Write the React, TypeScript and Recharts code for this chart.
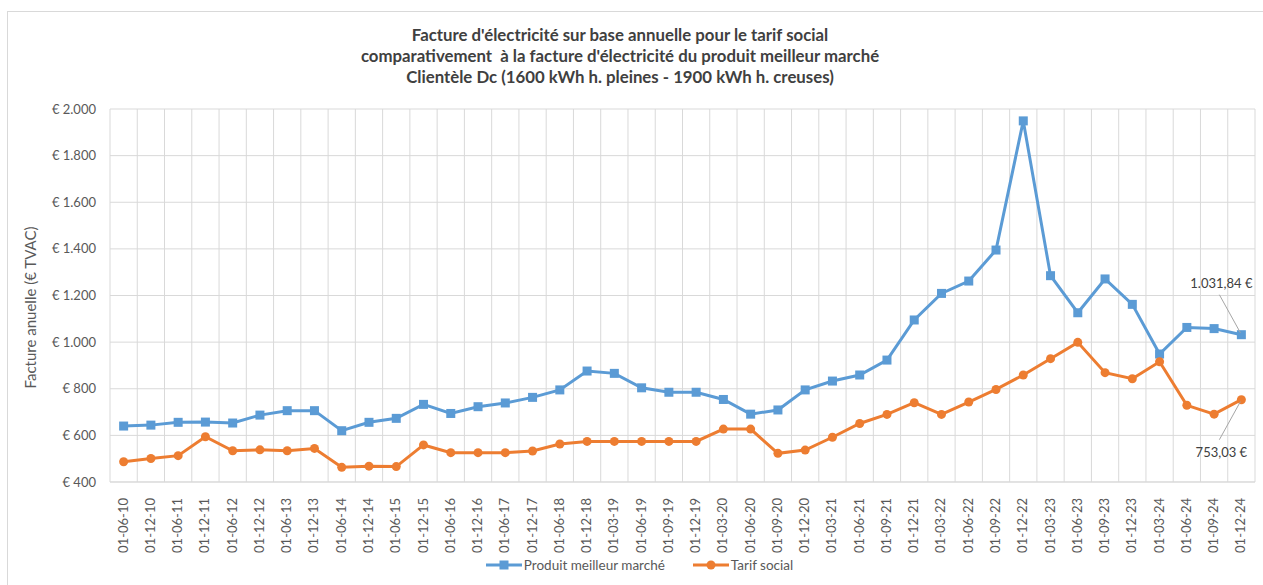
import React from 'react';
import {
  LineChart,
  Line,
  XAxis,
  YAxis,
  CartesianGrid,
  Label,
  LabelList,
  Legend,
} from 'recharts';

const dates = [
  '01-06-10', '01-12-10', '01-06-11', '01-12-11', '01-06-12', '01-12-12', '01-06-13',
  '01-12-13', '01-06-14', '01-12-14', '01-06-15', '01-12-15', '01-06-16', '01-12-16',
  '01-06-17', '01-12-17', '01-06-18', '01-12-18', '01-03-19', '01-06-19', '01-09-19',
  '01-12-19', '01-03-20', '01-06-20', '01-09-20', '01-12-20', '01-03-21', '01-06-21',
  '01-09-21', '01-12-21', '01-03-22', '01-06-22', '01-09-22', '01-12-22', '01-03-23',
  '01-06-23', '01-09-23', '01-12-23', '01-03-24', '01-06-24', '01-09-24', '01-12-24',
];

const meilleurMarche = [
  640, 644, 656, 657, 653, 687, 706, 706, 620, 656, 673, 733, 694, 723, 739, 763, 795,
  876, 866, 804, 785, 785, 754, 691, 709, 795, 833, 859, 923, 1095, 1209, 1262, 1395,
  1949, 1285, 1126, 1271, 1162, 949, 1063, 1058, 1031.84,
];

const tarifSocial = [
  487, 501, 513, 594, 534, 538, 534, 544, 463, 468, 466, 559, 526, 526, 526, 533, 563,
  574, 574, 574, 574, 574, 627, 627, 523, 537, 592, 651, 690, 740, 690, 743, 797, 859,
  929, 999, 869, 843, 916, 729, 691, 753.03,
];

const yTicks = [400, 600, 800, 1000, 1200, 1400, 1600, 1800, 2000];

const titleLines = [
  "Facture d'électricité sur base annuelle pour le tarif social",
  "comparativement  à la facture d'électricité du produit meilleur marché",
  'Clientèle Dc (1600 kWh h. pleines - 1900 kWh h. creuses)',
];

const BLUE = '#5B9BD5';
const ORANGE = '#ED7D31';
const GRID = '#d9d9d9';
const TEXT = '#595959';
const FONT = 'Lato, "Liberation Sans", sans-serif';

const data = dates.map((d, i) => ({
  date: d,
  meilleur: meilleurMarche[i],
  social: tarifSocial[i],
}));

const lastIndex = dates.length - 1;

const euroTick = (v: number) => {
  if (v >= 1000) {
    return `€ ${Math.floor(v / 1000)}.${String(v % 1000).padStart(3, '0')}`;
  }
  return `€ ${v}`;
};

const euroLabel = (v: number) => {
  const [int, dec] = v.toFixed(2).split('.');
  const withDots = int.replace(/\B(?=(\d{3})+(?!\d))/g, '.');
  return `${withDots},${dec} €`;
};

const SquareDot = (props: any) => {
  const { cx, cy } = props;
  if (cx == null || cy == null) return null;
  return <rect x={cx - 4.5} y={cy - 4.5} width={9} height={9} fill={BLUE} />;
};

const XTick = (props: any) => {
  const { x, y, payload } = props;
  return (
    <text
      x={x}
      y={y}
      transform={`rotate(-90, ${x}, ${y})`}
      textAnchor="end"
      dy={4}
      fill={TEXT}
      fontSize={13}
      fontFamily={FONT}
    >
      {payload.value}
    </text>
  );
};

const makeEndLabel = (above: boolean) => (props: any) => {
  const { x, y, index, value } = props;
  if (index !== lastIndex) return null;
  const sign = above ? -1 : 1;
  return (
    <g>
      <line
        x1={x - 1}
        y1={y + sign * 2}
        x2={x - 22}
        y2={y + sign * 40}
        stroke="#a6a6a6"
        strokeWidth={1}
      />
      <text
        x={x - 20}
        y={y + sign * 52}
        textAnchor="middle"
        dominantBaseline="central"
        fill="#404040"
        fontSize={13}
        fontFamily={FONT}
      >
        {euroLabel(value)}
      </text>
    </g>
  );
};

const LegendContent = () => (
  <div
    style={{
      display: 'flex',
      justifyContent: 'center',
      alignItems: 'center',
      gap: 28,
      fontFamily: FONT,
      fontSize: 13.5,
      color: TEXT,
      paddingLeft: 24,
    }}
  >
    <span style={{ display: 'flex', alignItems: 'center' }}>
      <svg width={36} height={12}>
        <line x1={0} y1={6} x2={36} y2={6} stroke={BLUE} strokeWidth={3} />
        <rect x={13.5} y={1.5} width={9} height={9} fill={BLUE} />
      </svg>
      <span style={{ marginLeft: 2 }}>Produit meilleur marché</span>
    </span>
    <span style={{ display: 'flex', alignItems: 'center' }}>
      <svg width={36} height={12}>
        <line x1={0} y1={6} x2={36} y2={6} stroke={ORANGE} strokeWidth={3} />
        <circle cx={18} cy={6} r={4.5} fill={ORANGE} />
      </svg>
      <span style={{ marginLeft: 2 }}>Tarif social</span>
    </span>
  </div>
);

export default function App() {
  return (
    <div
      style={{
        position: 'absolute',
        left: 0,
        top: 0,
        width: 1263,
        height: 585,
        overflow: 'hidden',
        background: '#fff',
      }}
    >
      <div
        style={{
          position: 'absolute',
          left: 7,
          top: 11,
          width: 1300,
          height: 700,
          border: `1px solid ${GRID}`,
        }}
      />
      <div
        style={{
          position: 'absolute',
          left: 0,
          top: 24,
          width: 1240,
          textAlign: 'center',
          fontFamily: FONT,
          fontWeight: 700,
          fontSize: 16.8,
          lineHeight: '21px',
          color: '#404040',
        }}
      >
        {titleLines.map((t) => (
          <div key={t} style={{ whiteSpace: 'pre' }}>
            {t}
          </div>
        ))}
      </div>
      <div style={{ position: 'absolute', left: 0, top: 0 }}>
        <LineChart
          width={1263}
          height={585}
          data={data}
          margin={{ top: 109, right: 8, bottom: 0, left: 0 }}
        >
          <CartesianGrid
            stroke={GRID}
            strokeWidth={1}
            verticalCoordinatesGenerator={({ offset }: any) =>
              Array.from({ length: dates.length + 1 }, (_, i) => offset.left + (i * offset.width) / dates.length)
            }
          />
          <XAxis
            dataKey="date"
            scale="band"
            interval={0}
            tick={<XTick />}
            tickLine={false}
            axisLine={{ stroke: GRID }}
            height={83}
            tickMargin={10}
          />
          <YAxis
            domain={[400, 2000]}
            ticks={yTicks}
            tickFormatter={euroTick}
            tick={{ fill: TEXT, fontSize: 13, fontFamily: FONT }}
            tickLine={false}
            axisLine={false}
            width={110}
            tickMargin={8}
          >
            <Label
              content={({ viewBox }: any) => (
                <text
                  x={viewBox.x + 30}
                  y={viewBox.y + viewBox.height / 2 + 12}
                  transform={`rotate(-90, ${viewBox.x + 30}, ${viewBox.y + viewBox.height / 2 + 12})`}
                  textAnchor="middle"
                  dominantBaseline="central"
                  fill={TEXT}
                  fontSize={15}
                  fontFamily={FONT}
                >
                  Facture anuelle (€ TVAC)
                </text>
              )}
            />
          </YAxis>
          <Line
            type="linear"
            dataKey="meilleur"
            name="Produit meilleur marché"
            stroke={BLUE}
            strokeWidth={3}
            dot={<SquareDot />}
            activeDot={false}
            isAnimationActive={false}
          >
            <LabelList dataKey="meilleur" content={makeEndLabel(true)} />
          </Line>
          <Line
            type="linear"
            dataKey="social"
            name="Tarif social"
            stroke={ORANGE}
            strokeWidth={3}
            dot={{ r: 4.5, fill: ORANGE, stroke: ORANGE, strokeWidth: 0 }}
            activeDot={false}
            isAnimationActive={false}
          >
            <LabelList dataKey="social" content={makeEndLabel(false)} />
          </Line>
          <Legend
            content={<LegendContent />}
            height={20}
            verticalAlign="bottom"
            wrapperStyle={{ bottom: 8 }}
          />
        </LineChart>
      </div>
    </div>
  );
}
